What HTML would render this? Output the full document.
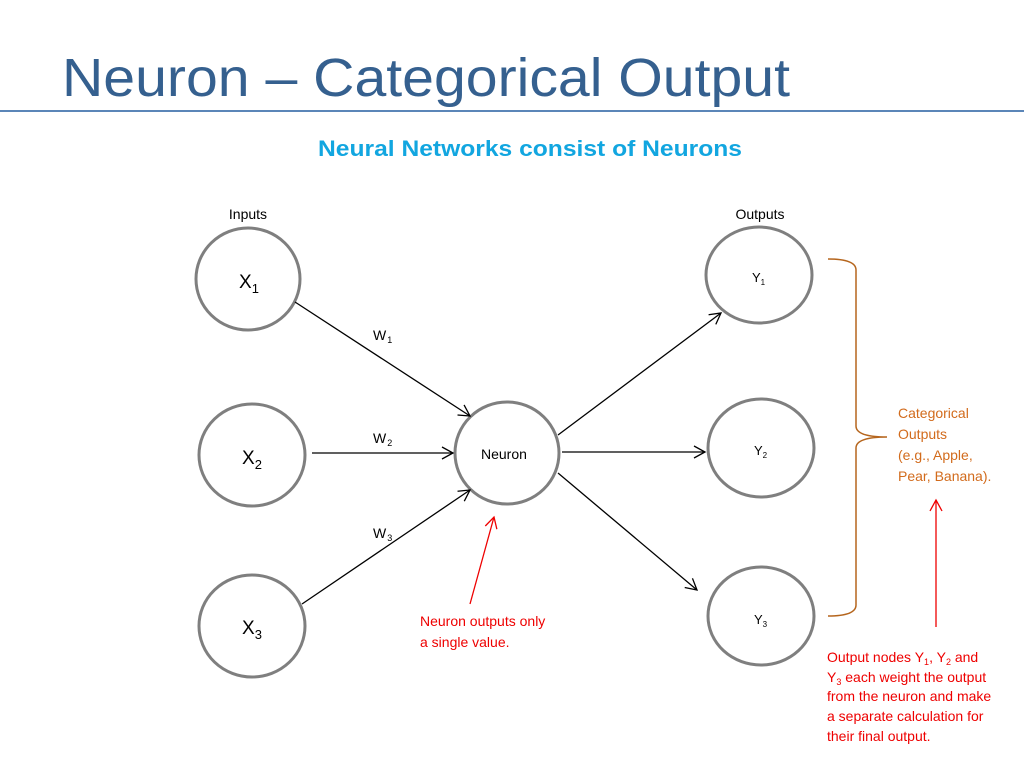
<!DOCTYPE html>
<html><head><meta charset="utf-8"><style>
body{margin:0;width:1024px;height:768px;background:#fff;overflow:hidden;font-family:"Liberation Sans",sans-serif;}
</style></head><body>
<svg width="1024" height="768" xmlns="http://www.w3.org/2000/svg" font-family="Liberation Sans, sans-serif">
<defs>
<marker id="a" markerWidth="14" markerHeight="14" refX="12" refY="7" orient="auto" markerUnits="userSpaceOnUse"><path d="M1,1 L12,7 L1,13" fill="none" stroke="#000" stroke-width="1.3"/></marker>
<marker id="r" markerWidth="14" markerHeight="14" refX="12" refY="7" orient="auto" markerUnits="userSpaceOnUse"><path d="M1,1 L12,7 L1,13" fill="none" stroke="#e00" stroke-width="1.3"/></marker>
</defs>
<text x="62" y="96" font-size="54" fill="#35608f" textLength="728" lengthAdjust="spacingAndGlyphs">Neuron – Categorical Output</text>
<line x1="0" y1="111" x2="1024" y2="111" stroke="#5b86b8" stroke-width="2"/>
<text x="318" y="156" font-size="22" font-weight="bold" fill="#12a6e0" textLength="424" lengthAdjust="spacingAndGlyphs">Neural Networks consist of Neurons</text>
<g fill="none" stroke="#7f7f7f" stroke-width="3">
<ellipse cx="248" cy="279" rx="52" ry="51"/>
<ellipse cx="252" cy="455" rx="53" ry="51"/>
<ellipse cx="252" cy="626" rx="53" ry="51"/>
<ellipse cx="507" cy="453" rx="52" ry="51"/>
<ellipse cx="759" cy="275" rx="53" ry="48"/>
<ellipse cx="761" cy="448" rx="53" ry="49"/>
<ellipse cx="761" cy="616" rx="53" ry="49"/>
</g>
<g stroke="#000" stroke-width="1.3" marker-end="url(#a)">
<line x1="295" y1="302" x2="470" y2="416"/>
<line x1="312" y1="453" x2="453" y2="453"/>
<line x1="302" y1="604" x2="470" y2="490"/>
<line x1="558" y1="435" x2="721" y2="313"/>
<line x1="562" y1="452" x2="705" y2="452"/>
<line x1="558" y1="473" x2="697" y2="590"/>
</g>
<g stroke="#e00" stroke-width="1.3" marker-end="url(#r)">
<line x1="470" y1="604" x2="494" y2="517"/>
<line x1="936" y1="627" x2="936" y2="500"/>
</g>
<path d="M828,259 Q856,259 856,270 L856,426 Q856,437 887,437 Q856,437 856,448 L856,605 Q856,616 828,616" fill="none" stroke="#b5651d" stroke-width="1.5"/>
<g font-size="14" fill="#000">
<text x="248" y="219" text-anchor="middle">Inputs</text>
<text x="760" y="219" text-anchor="middle">Outputs</text>
<text x="481" y="459">Neuron</text>
<text x="373" y="340">W<tspan font-size="9" dy="3" dx="1">1</tspan></text>
<text x="373" y="443">W<tspan font-size="9" dy="3" dx="1">2</tspan></text>
<text x="373" y="538">W<tspan font-size="9" dy="3" dx="1">3</tspan></text>
</g>
<g font-size="19" fill="#000">
<text x="239" y="288">X<tspan font-size="13" dy="5">1</tspan></text>
<text x="242" y="464">X<tspan font-size="13" dy="5">2</tspan></text>
<text x="242" y="634">X<tspan font-size="13" dy="5">3</tspan></text>
</g>
<g font-size="13" fill="#000">
<text x="752" y="282">Y<tspan font-size="8" dy="3">1</tspan></text>
<text x="754" y="455">Y<tspan font-size="8" dy="3">2</tspan></text>
<text x="754" y="624">Y<tspan font-size="8" dy="3">3</tspan></text>
</g>
<g font-size="14" fill="#d26b1c">
<text x="898" y="418">Categorical</text>
<text x="898" y="439">Outputs</text>
<text x="898" y="460">(e.g., Apple,</text>
<text x="898" y="481">Pear, Banana).</text>
</g>
<g font-size="14" fill="#e00">
<text x="420" y="626">Neuron outputs only</text>
<text x="420" y="647">a single value.</text>
<text x="827" y="662">Output nodes Y<tspan font-size="9" dy="3">1</tspan><tspan dy="-3">, Y</tspan><tspan font-size="9" dy="3">2</tspan><tspan dy="-3">  and</tspan></text>
<text x="827" y="682">Y<tspan font-size="9" dy="3">3</tspan><tspan dy="-3"> each weight the output</tspan></text>
<text x="827" y="701">from the neuron and make</text>
<text x="827" y="721">a separate calculation for</text>
<text x="827" y="741">their final output.</text>
</g>
</svg>
</body></html>
